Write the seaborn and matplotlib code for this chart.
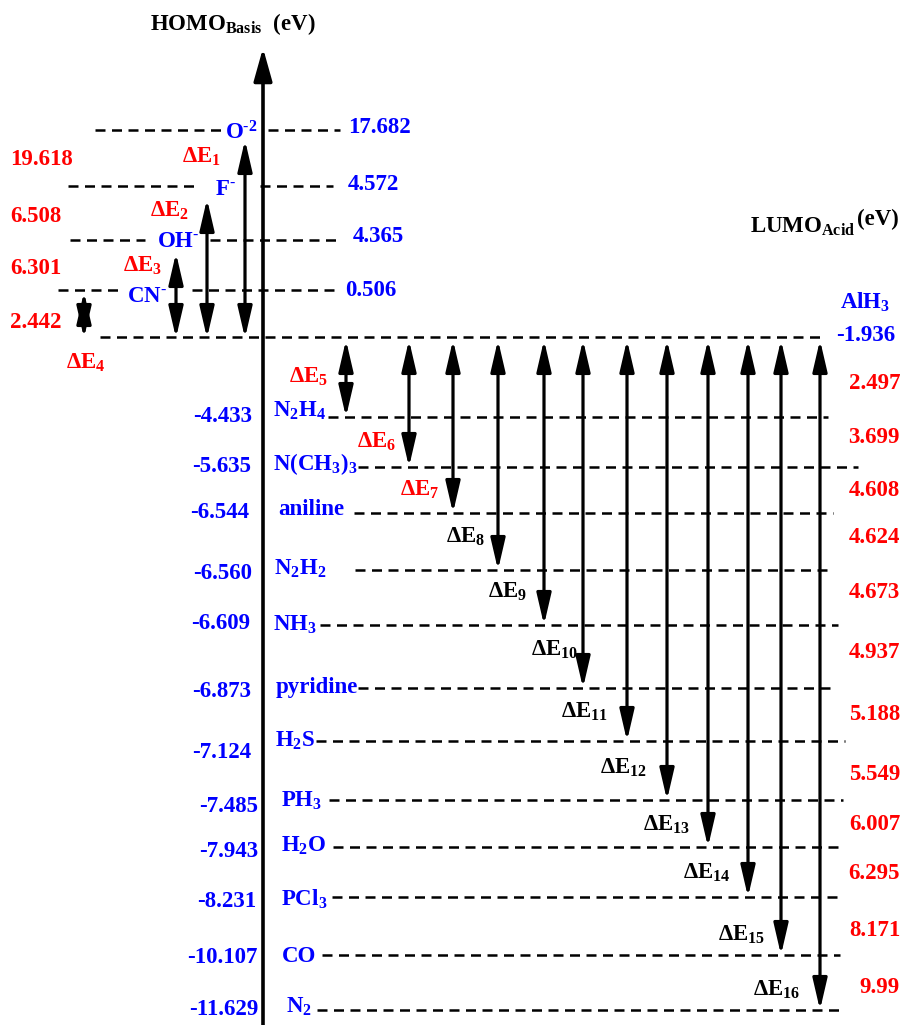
import matplotlib
matplotlib.use("Agg")
import matplotlib.pyplot as plt
import pandas as pd
import seaborn as sns

# ---- data (eV)
anions = ["O$^{‐2}$", "F$^{‐}$", "OH$^{‐}$", "CN$^{‐}$"]
homo_anions = [17.682, 4.572, 4.365, 0.506]
gap_anions = [19.618, 6.508, 6.301, 2.442]

bases = ["N$_2$H$_4$", "N(CH$_3$)$_3$", "aniline", "N$_2$H$_2$", "NH$_3$", "pyridine",
         "H$_2$S", "PH$_3$", "H$_2$O", "PCl$_3$", "CO", "N$_2$"]
homo_bases = [-4.433, -5.635, -6.544, -6.560, -6.609, -6.873,
              -7.124, -7.485, -7.943, -8.231, -10.107, -11.629]
gap_bases = [2.497, 3.699, 4.608, 4.624, 4.673, 4.937,
             5.188, 5.549, 6.007, 6.295, 8.171, 9.99]

acid = "AlH$_3$"
lumo_acid = -1.936

# ---- schematic layout (pixel-like units, y downwards)
ref_y = 337
anion_y = [130, 186, 240, 290]
anion_left = [(95, 222), (68, 200), (70, 145), (58, 120)]
anion_right = [(268, 340), (260, 333), (210, 342), (192, 335)]
anion_arrow_x = [245, 207, 176, 84]
anion_arrow_top = [140, 199, 253, 292]

base_y = [417, 467, 513, 570, 625, 688, 741, 800, 847, 897, 955, 1010]
base_x0 = [328, 358, 354, 355, 320, 358, 316, 329, 333, 332, 322, 317]
base_x1 = [828, 858, 833, 833, 838, 833, 845, 843, 843, 838, 840, 843]
arrow_x = [346, 409, 453, 498, 544, 583, 627, 667, 708, 748, 781, 820]

BLUE = "#0000ff"
RED = "#ff0000"
FS = 16.5

sns.set_theme(style="white")
plt.rcParams["font.family"] = ["Liberation Serif", "DejaVu Serif"]
plt.rcParams["font.weight"] = "bold"
plt.rcParams["text.color"] = "black"
plt.rcParams["mathtext.fontset"] = "custom"
plt.rcParams["mathtext.rm"] = "Liberation Serif:bold"
plt.rcParams["mathtext.it"] = "Liberation Serif:bold"
plt.rcParams["mathtext.bf"] = "Liberation Serif:bold"
plt.rcParams["mathtext.default"] = "bf"

fig = plt.figure(figsize=(9.01, 10.25), dpi=100)
ax = fig.add_axes([0, 0, 1, 1])

# dashed energy levels
rows = []
seg = 0
for (a, b), y in zip(anion_left, anion_y):
    rows += [(a, y, seg), (b, y, seg)]
    seg += 1
for (a, b), y in zip(anion_right, anion_y):
    rows += [(a, y, seg), (b, y, seg)]
    seg += 1
rows += [(100, ref_y, seg), (825, ref_y, seg)]
seg += 1
for a, b, y in zip(base_x0, base_x1, base_y):
    rows += [(a, y, seg), (b, y, seg)]
    seg += 1
levels = pd.DataFrame(rows, columns=["x", "y", "seg"])
sns.lineplot(data=levels, x="x", y="y", units="seg", estimator=None, sort=False,
             color="black", lw=1.8, linestyle=(0, (4, 2.6)), legend=False, ax=ax)
ax.set_xlim(0, 901)
ax.set_ylim(1025, 0)
ax.axis("off")

# main energy axis
ax.annotate("", xy=(263, 48), xytext=(263, 1030),
            arrowprops=dict(arrowstyle="-|>,head_length=1.0,head_width=0.28",
                            color="black", lw=2.6, shrinkA=0, shrinkB=0,
                            mutation_scale=20))


def double_arrow(x, y0, y1):
    ax.annotate("", xy=(x, y1), xytext=(x, y0),
                arrowprops=dict(arrowstyle="<|-|>,head_length=0.95,head_width=0.22",
                                color="black", lw=2.3, shrinkA=0, shrinkB=0,
                                mutation_scale=20))


for x, top in zip(anion_arrow_x, anion_arrow_top):
    double_arrow(x, top, ref_y + 1)
for x, y in zip(arrow_x, base_y):
    double_arrow(x, ref_y + 3, y)

# titles
ax.text(150, 30, "HOMO$_{Basis}$  (eV)", fontsize=FS, ha="left", va="baseline")
ax.text(750, 233, "LUMO$_{Acid}$", fontsize=FS, ha="left", va="baseline")
ax.text(857, 225, "(eV)", fontsize=FS, ha="left", va="baseline")

# anion labels
anion_lab_xy = [(225, 140), (215, 195), (157, 247), (127, 302)]
anion_val_xy = [(348, 133), (348, 190), (353, 242), (345, 296)]
gap_anion_y = [165, 222, 274, 328]
de_anion_xy = [(182, 163), (150, 217), (123, 272), (66, 369)]
for i in range(4):
    ax.text(*anion_lab_xy[i], anions[i], color=BLUE, fontsize=FS, va="baseline")
    ax.text(*anion_val_xy[i], f"{homo_anions[i]:.3f}", color=BLUE, fontsize=FS,
            va="baseline")
    ax.text(10, gap_anion_y[i], f"{gap_anions[i]:.3f}", color=RED, fontsize=FS,
            va="baseline")
    ax.text(*de_anion_xy[i], f"ΔE$_{{{i + 1}}}$", color=RED, fontsize=FS,
            va="baseline")

ax.text(840, 309, acid, color=BLUE, fontsize=FS, va="baseline")
ax.text(836, 341, f"{lumo_acid:.3f}", color=BLUE, fontsize=FS, va="baseline")

# base labels
base_lab_x = [273, 273, 278, 274, 273, 276, 275, 281, 281, 281, 282, 286]
base_lab_y = [417, 470, 515, 575, 631, 693, 747, 807, 852, 906, 962, 1013]
base_val_x = [252, 251, 249, 252, 250, 251, 251, 258, 258, 256, 257, 258]
base_val_y = [422, 472, 518, 579, 629, 697, 758, 812, 857, 907, 963, 1015]
gap_val_y = [389, 443, 496, 543, 598, 658, 720, 780, 830, 879, 936, 993]
de_xy = [(289, 383), (357, 448), (400, 496), (446, 543), (488, 598), (531, 656),
         (561, 718), (600, 774), (643, 831), (683, 879), (718, 941), (753, 996)]
for i in range(12):
    ax.text(base_lab_x[i], base_lab_y[i], bases[i], color=BLUE, fontsize=FS,
            va="baseline")
    ax.text(base_val_x[i], base_val_y[i], f"{homo_bases[i]:.3f}", color=BLUE,
            fontsize=FS, ha="right", va="baseline")
    ax.text(900, gap_val_y[i], str(gap_bases[i]), color=RED, fontsize=FS,
            ha="right", va="baseline")
    ax.text(*de_xy[i], f"ΔE$_{{{i + 5}}}$", color=RED if i < 3 else "black",
            fontsize=FS, va="baseline")

fig.savefig("out.png", dpi=100)
